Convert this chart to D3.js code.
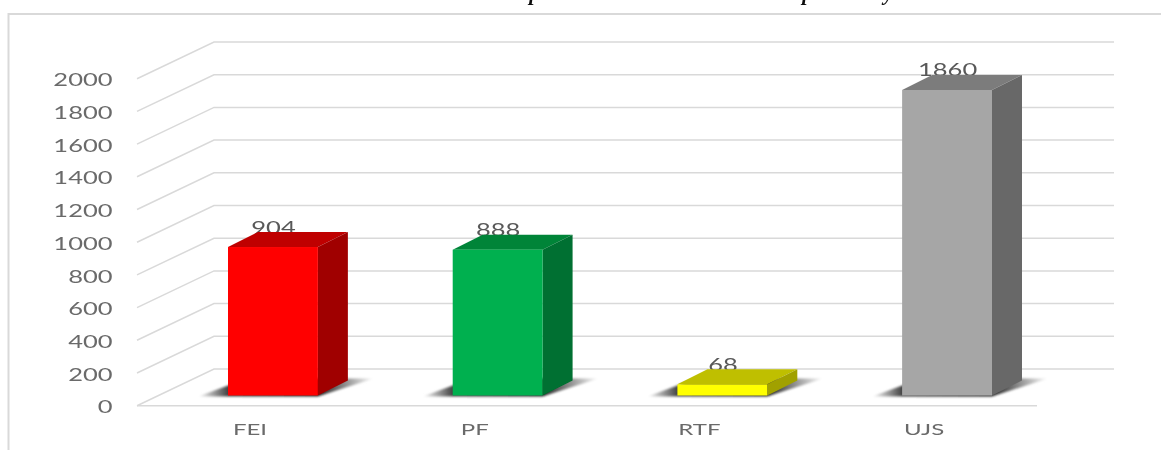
<!DOCTYPE html>
<html>
<head>
<meta charset="utf-8">
<script src="https://cdn.jsdelivr.net/npm/d3@7.9.0/dist/d3.min.js"></script>
<style>
    html, body { margin: 0; padding: 0; background: #fff; overflow: hidden; }
    text { font-family: Lato, sans-serif; }
</style>
</head>
<body>
<div id="chart"></div>
<script>
// values
const categories = ["FEI", "PF", "RTF", "UJS"];
const values = [904, 888, 68, 1860];
const yTicks = [0, 200, 400, 600, 800, 1000, 1200, 1400, 1600, 1800, 2000];
const frontColors = ["#ff0000", "#00b050", "#ffff00", "#a6a6a6"];
const topColors = ["#bf0000", "#008439", "#bfbf00", "#7c7c7c"];
const sideColors = ["#a00000", "#006f30", "#a1a100", "#686868"];
// only the descenders of this line are on the page
const title = "The respondents in each institute and per survey";

const width = 1161;
const height = 450;

// depth of the 3d box, in px
const wallDx = 77;
const wallDy = -36.7;
const barDx = 30;
const barDy = -15;
// text in the original is stretched sideways
const stretch = 1.5;

const svg = d3.select("#chart")
    .append("svg")
    .attr("width", width)
    .attr("height", height);

const defs = svg.append("defs");
// the original is a resampled image, everything is slightly soft
const soft = defs.append("filter").attr("id", "soft")
    .attr("filterUnits", "userSpaceOnUse")
    .attr("x", 0).attr("y", 0).attr("width", width).attr("height", height);
soft.append("feGaussianBlur").attr("stdDeviation", 0.45);

const blur = defs.append("filter").attr("id", "blur")
    .attr("x", "-10%").attr("y", "-30%").attr("width", "120%").attr("height", "160%");
blur.append("feGaussianBlur").attr("stdDeviation", 1);

const shadowGrad = defs.append("linearGradient").attr("id", "shadow")
    .attr("x1", 0).attr("x2", 1).attr("y1", 0).attr("y2", 0);
shadowGrad.append("stop").attr("offset", 0).attr("stop-color", "#fff");
shadowGrad.append("stop").attr("offset", 0.17).attr("stop-color", "#444");
shadowGrad.append("stop").attr("offset", 0.68).attr("stop-color", "#222");
shadowGrad.append("stop").attr("offset", 1).attr("stop-color", "#fff");

const root = svg.append("g").attr("filter", "url(#soft)");

// page frame, only left and top edges are visible
root.append("path")
    .attr("d", "M8.5,450V14H1161")
    .attr("fill", "none")
    .attr("stroke", "#d9d9d9")
    .attr("stroke-width", 2);

// clipped title
root.append("text")
    .attr("x", 463)
    .attr("y", 0)
    .attr("fill", "#111")
    .style("font-family", "'Liberation Serif', serif")
    .style("font-style", "italic")
    .style("font-weight", "bold")
    .style("font-size", "21px")
    .style("word-spacing", "1.5px")
    .text(title);

// scales
const yScale = d3.scaleLinear().domain([0, 2000]).range([405.7, 78.7]);
const barScale = d3.scaleLinear().domain([0, 2000]).range([395.5, 67]);
const xScale = d3.scaleBand()
    .domain(categories)
    .range([228, 992])
    .paddingInner(0.6);
const barWidth = xScale.bandwidth();
const baseY = barScale(0);

// gridlines run along the side panel and the back wall
const gridLeft = 137;
const gridRight = 1114;
const grid = root.append("g").attr("fill", "none").attr("stroke", "#d9d9d9").attr("stroke-width", 1.5);
grid.selectAll("path")
    .data(yTicks)
    .join("path")
    .attr("d", d => `M${gridLeft},${yScale(d)}L${gridLeft + wallDx},${yScale(d) + wallDy}H${gridRight}`);
// front edge of the floor
grid.append("line")
    .attr("x1", gridLeft).attr("x2", 1037)
    .attr("y1", yScale(0)).attr("y2", yScale(0));

// y axis labels
root.append("g").selectAll("text")
    .data(yTicks)
    .join("text")
    .attr("transform", d => `translate(112.5,${yScale(d) + 1.5}) scale(${stretch},1)`)
    .attr("dy", "0.36em")
    .attr("text-anchor", "end")
    .attr("fill", "#6a6a6a")
    .style("font-size", "17px")
    .text(d => d);

// value labels go first, the bars cover their lower edge like in the original
root.append("g").selectAll("text")
    .data(categories)
    .join("text")
    .attr("transform", (d, i) => `translate(${xScale(d) + 45.5},${barScale(values[i]) + barDy + 1.5}) scale(${stretch},1)`)
    .attr("text-anchor", "middle")
    .attr("fill", "#595959")
    .style("font-size", "17px")
    .text((d, i) => values[i]);

const bars = root.append("g").selectAll("g")
    .data(categories)
    .join("g");

// shadow on the floor
bars.append("path")
    .attr("d", d => {
        const x = xScale(d);
        return `M${x - 30},${baseY + 1}L${x + 19},${baseY - 17}H${x + barWidth + 56}L${x + barWidth},${baseY + 1}Z`;
    })
    .attr("fill", "url(#shadow)")
    .attr("filter", "url(#blur)");

bars.append("path")
    .attr("d", (d, i) => {
        const top = barScale(values[i]);
        return `M${xScale(d)},${top}l${barDx},${barDy}h${barWidth}l${-barDx},${-barDy}Z`;
    })
    .attr("fill", (d, i) => topColors[i]);

bars.append("path")
    .attr("d", (d, i) => {
        const x = xScale(d) + barWidth;
        const top = barScale(values[i]);
        return `M${x},${top}l${barDx},${barDy}V${baseY + barDy}l${-barDx},${-barDy}Z`;
    })
    .attr("fill", (d, i) => sideColors[i]);

bars.append("rect")
    .attr("x", d => xScale(d))
    .attr("y", (d, i) => barScale(values[i]))
    .attr("width", barWidth)
    .attr("height", (d, i) => baseY - barScale(values[i]))
    .attr("fill", (d, i) => frontColors[i]);

// category labels
root.append("g").selectAll("text")
    .data(categories)
    .join("text")
    .attr("transform", d => `translate(${xScale(d) + 22},435) scale(${stretch},1)`)
    .attr("text-anchor", "middle")
    .attr("fill", "#6a6a6a")
    .style("font-size", "16px")
    .text(d => d);
</script>
</body>
</html>
